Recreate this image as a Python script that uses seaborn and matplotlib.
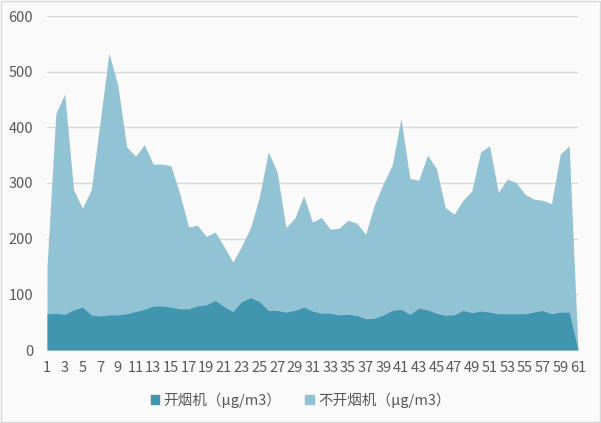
import numpy as np
import pandas as pd
import matplotlib
matplotlib.use("Agg")
import matplotlib.pyplot as plt
import seaborn as sns
from matplotlib.patches import Patch

# day index 1..61
days = list(range(1, 62))

# 开烟机 (hood on), ug/m3
hood_on = [65, 66, 64, 72, 77, 63, 61, 63, 63, 65,
           69, 73, 79, 79, 77, 74, 74, 79, 81, 89,
           78, 69, 87, 94, 87, 71, 71, 68, 71, 77,
           70, 66, 66, 63, 64, 62, 56, 57, 63, 71,
           73, 64, 75, 72, 66, 62, 63, 71, 67, 70,
           68, 65, 65, 65, 65, 68, 71, 65, 68, 68,
           0]

# 不开烟机 (hood off), ug/m3
hood_off = [150, 425, 460, 288, 255, 288, 410, 533, 476, 365,
            348, 369, 334, 334, 331, 281, 221, 224, 204, 212,
            186, 158, 187, 220, 275, 356, 320, 220, 237, 277,
            230, 238, 217, 219, 233, 228, 208, 261, 299, 332,
            416, 308, 305, 350, 326, 256, 244, 269, 286, 356,
            367, 283, 307, 301, 280, 271, 269, 263, 352, 367,
            0]

labels = ["开烟机（μg/m3）", "不开烟机（μg/m3）"]
dark = "#4096AE"
light = "#92C3D4"

df = pd.DataFrame({"day": days, "on": hood_on, "off": hood_off})

sns.set_style("white")
plt.rcParams["font.family"] = ["Noto Sans CJK SC", "DejaVu Sans"]

fig = plt.figure(figsize=(6.01, 4.23), dpi=100, facecolor="#FAFAFA")
ax = fig.add_axes([47 / 601, 1 - 350 / 423, 531 / 601, 334 / 423])
ax.set_facecolor("#FAFAFA")

# areas drawn on top of each other (not stacked)
ax.fill_between(df["day"], 0, df["off"], color=light, linewidth=0, zorder=2)
ax.fill_between(df["day"], 0, df["on"], color=dark, linewidth=0, zorder=3)

ax.set_xlim(1, 61)
ax.set_ylim(0, 600)
ax.set_yticks(range(0, 601, 100))
ax.set_xticks(days[::2])
ax.set_xticks(days, minor=True)
ax.yaxis.grid(True, color="#D9D9D9", linewidth=1, zorder=0)
ax.set_axisbelow(True)

for s in ["top", "right", "left"]:
    ax.spines[s].set_visible(False)
ax.spines["bottom"].set_color("#D9D9D9")

ax.tick_params(axis="y", length=0, labelsize=10.5, labelcolor="#595959", pad=10)
ax.tick_params(axis="x", which="both", direction="out", length=4,
               color="#D9D9D9", labelsize=10.5, labelcolor="#595959", pad=4)
ax.tick_params(axis="x", which="minor", length=4)

handles = [Patch(color=dark), Patch(color=light)]
fig.legend(handles, labels, loc="center", bbox_to_anchor=(0.5, 1 - 400 / 423),
           ncol=2, frameon=False, fontsize=10.5, handlelength=0.6, handleheight=0.6,
           handletextpad=0.3, columnspacing=1.6, labelcolor="#595959")

# outer frame
fig.patches.append(plt.Rectangle((0.002, 0.002), 0.996, 0.996, transform=fig.transFigure,
                                 fill=False, edgecolor="#D9D9D9", linewidth=1))

fig.savefig("out.png", dpi=100, facecolor=fig.get_facecolor())
